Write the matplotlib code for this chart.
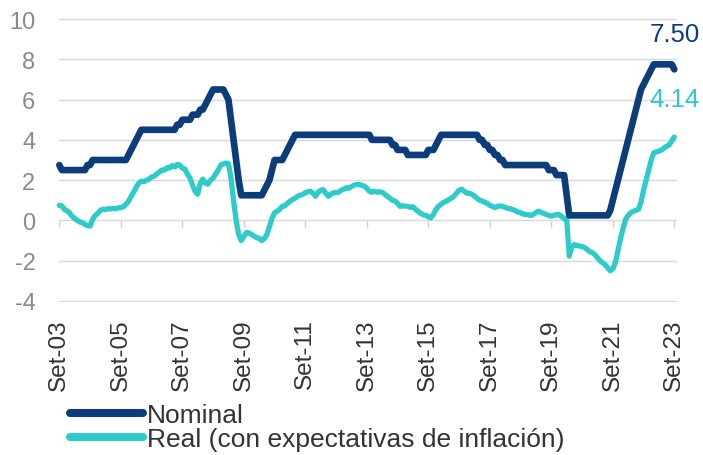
import matplotlib
matplotlib.use("Agg")
import matplotlib.pyplot as plt
import numpy as np

plt.rcParams['font.family'] = ['Liberation Sans', 'DejaVu Sans']

# Monthly data, Sep-2003 .. Sep-2023
nominal = (
    [2.75, 2.5, 2.5, 2.5]  # 2003 Sep-Dec
    + [2.5, 2.5, 2.5, 2.5, 2.5, 2.5, 2.5, 2.75, 2.75, 3.0, 3.0, 3.0]  # 2004
    + [3.0] * 11 + [3.25]  # 2005
    + [3.5, 3.75, 4.0, 4.25] + [4.5] * 8  # 2006
    + [4.5] * 6 + [4.75, 4.75, 5.0, 5.0, 5.0, 5.0]  # 2007
    + [5.25, 5.25, 5.25, 5.5, 5.5, 5.75, 6.0, 6.25, 6.5, 6.5, 6.5, 6.5]  # 2008
    + [6.5, 6.25, 6.0, 5.0, 4.0, 3.0, 2.0, 1.25, 1.25, 1.25, 1.25, 1.25]  # 2009
    + [1.25, 1.25, 1.25, 1.25, 1.5, 1.75, 2.0, 2.5, 3.0, 3.0, 3.0, 3.0]  # 2010
    + [3.25, 3.5, 3.75, 4.0] + [4.25] * 8  # 2011
    + [4.25] * 12  # 2012
    + [4.25] * 10 + [4.0, 4.0]  # 2013
    + [4.0] * 6 + [3.75, 3.75, 3.5, 3.5, 3.5, 3.5]  # 2014
    + [3.25] * 8 + [3.5, 3.5, 3.5, 3.75]  # 2015
    + [4.0] + [4.25] * 11  # 2016
    + [4.25] * 4 + [4.0, 4.0, 3.75, 3.75, 3.5, 3.5, 3.25, 3.25]  # 2017
    + [3.0, 3.0] + [2.75] * 10  # 2018
    + [2.75] * 7 + [2.5, 2.5, 2.5, 2.25, 2.25]  # 2019
    + [2.25, 2.25, 1.25] + [0.25] * 9  # 2020
    + [0.25] * 7 + [0.5, 1.0, 1.5, 2.0, 2.5]  # 2021
    + [3.0, 3.5, 4.0, 4.5, 5.0, 5.5, 6.0, 6.5, 6.75, 7.0, 7.25, 7.5]  # 2022
    + [7.75] * 8 + [7.5]  # 2023
)

real = [
    0.75, 0.72, 0.55, 0.48, 0.38, 0.20, 0.10, 0.00, -0.08, -0.12,
    -0.20, -0.25, -0.28, 0.05, 0.25, 0.35, 0.50, 0.55, 0.55, 0.58,
    0.57, 0.60, 0.58, 0.62, 0.63, 0.68, 0.80, 0.95, 1.20, 1.40,
    1.65, 1.85, 1.95, 1.92, 2.00, 2.05, 2.15, 2.20, 2.30, 2.40,
    2.50, 2.50, 2.62, 2.60, 2.72, 2.65, 2.78, 2.75, 2.60, 2.55,
    2.30, 2.10, 1.75, 1.45, 1.30, 1.85, 2.05, 1.85, 1.80, 2.00,
    2.10, 2.30, 2.50, 2.75, 2.80, 2.85, 2.82, 2.10, 1.00, 0.00,
    -0.70, -1.00, -0.80, -0.60, -0.62, -0.70, -0.78, -0.85, -0.90, -1.00,
    -0.90, -0.70, -0.30, 0.10, 0.38, 0.45, 0.55, 0.70, 0.72, 0.85,
    0.95, 1.04, 1.10, 1.20, 1.25, 1.29, 1.38, 1.42, 1.45, 1.35,
    1.20, 1.40, 1.50, 1.53, 1.35, 1.20, 1.30, 1.37, 1.38, 1.40,
    1.50, 1.55, 1.62, 1.60, 1.68, 1.75, 1.78, 1.78, 1.75, 1.70,
    1.60, 1.45, 1.40, 1.45, 1.40, 1.42, 1.40, 1.30, 1.20, 1.10,
    1.00, 0.96, 0.85, 0.70, 0.72, 0.71, 0.70, 0.65, 0.68, 0.55,
    0.45, 0.35, 0.28, 0.25, 0.18, 0.13, 0.30, 0.55, 0.71, 0.80,
    0.90, 0.95, 1.04, 1.10, 1.20, 1.35, 1.50, 1.55, 1.45, 1.35,
    1.35, 1.30, 1.20, 1.10, 1.00, 0.96, 0.90, 0.85, 0.75, 0.70,
    0.63, 0.70, 0.72, 0.70, 0.65, 0.60, 0.58, 0.54, 0.48, 0.42,
    0.38, 0.32, 0.29, 0.28, 0.25, 0.30, 0.38, 0.46, 0.40, 0.35,
    0.30, 0.25, 0.21, 0.25, 0.29, 0.29, 0.20, 0.10, 0.05, -1.77,
    -1.30, -1.20, -1.25, -1.27, -1.30, -1.35, -1.45, -1.55, -1.60, -1.70,
    -1.85, -2.00, -2.10, -2.20, -2.35, -2.50, -2.40, -2.10, -1.50, -0.90,
    -0.40, 0.05, 0.25, 0.38, 0.45, 0.50, 0.55, 0.90, 1.50, 2.00,
    2.50, 3.00, 3.36, 3.40, 3.44, 3.50, 3.60, 3.68, 3.75, 3.95,
    4.14,
]

tick_labels = ["Set-03", "Set-05", "Set-07", "Set-09", "Set-11", "Set-13",
               "Set-15", "Set-17", "Set-19", "Set-21", "Set-23"]
series_names = ["Nominal", "Real (con expectativas de inflación)"]
last_labels = ["7.50", "4.14"]

NAVY = "#0c3d7b"
TEAL = "#2fcaca"

W, H = 703, 456
fig = plt.figure(figsize=(W / 100, H / 100), dpi=100)
ax = fig.add_axes([59 / W, 1 - 303 / H, (677 - 59) / W, (303 - 19) / H])

x = np.arange(len(nominal))
ax.plot(x, nominal, color=NAVY, lw=4.8, solid_capstyle='round',
        solid_joinstyle='round', label=series_names[0], zorder=3, clip_on=False)
ax.plot(x, real, color=TEAL, lw=3.8, solid_capstyle='round',
        solid_joinstyle='round', label=series_names[1], zorder=2, clip_on=False)

ax.set_xlim(-0.12, 241.05)
ax.set_ylim(-4.05, 10.05)
ax.set_yticks(np.arange(-4, 11, 2))
ax.set_yticklabels([str(v) for v in range(-4, 11, 2)])
ax.grid(axis='y', color='#d9d9d9', lw=1.0)
ax.set_axisbelow(True)
for s in ax.spines.values():
    s.set_visible(False)

tick_pos = np.arange(0, len(nominal), 24)
ax.set_xticks(tick_pos)
ax.set_xticklabels(tick_labels, rotation=90, fontsize=17.5, color='#333333')
ax.tick_params(axis='x', length=0, pad=12)
ax.tick_params(axis='y', length=0, pad=17, labelsize=17, labelcolor='#8a8a8a')
# category tick marks hanging from the zero line
ax.vlines(tick_pos, 0, -0.35, color='#d0d0d0', lw=1.0, zorder=1)

fig.text(700 / W, 1 - 35 / H, last_labels[0], color=NAVY, fontsize=18.5,
         ha='right', va='center')
fig.text(700 / W, 1 - 100 / H, last_labels[1], color=TEAL, fontsize=18.5,
         ha='right', va='center')

leg = fig.legend(loc='upper left', bbox_to_anchor=(70 / W, 1 - 404 / H),
                 frameon=False, fontsize=19, handlelength=2.75,
                 handletextpad=0.15, labelspacing=0.0, borderpad=0,
                 borderaxespad=0)
for line in leg.get_lines():
    line.set_linewidth(5.8)
    line.set_solid_capstyle('round')
for t in leg.get_texts():
    t.set_color('#333333')

fig.savefig("out.png", dpi=100)
